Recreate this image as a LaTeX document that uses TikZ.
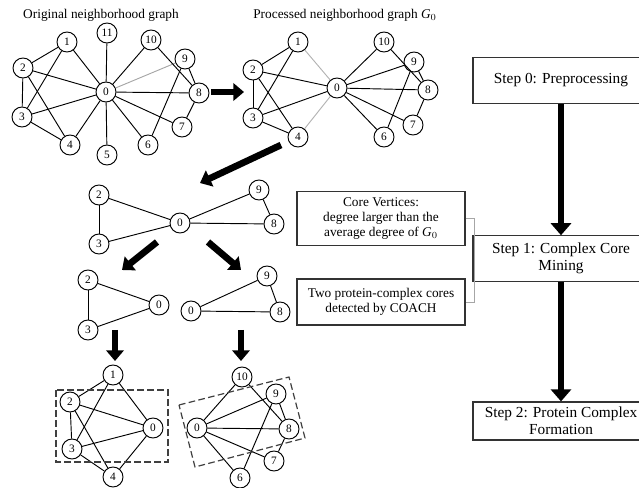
\documentclass[tikz,border=0pt]{standalone}
\usepackage{fontspec}
\setmainfont{Liberation Serif}
\usetikzlibrary{arrows.meta}

\begin{document}
\begin{tikzpicture}[x=0.75pt, y=-0.75pt, line width=0.7pt,
		v/.style={circle, draw, minimum size=15pt, inner sep=0pt, font=\fontsize{8.5}{8.5}\selectfont},
		fat/.style={line width=5pt, -{Triangle[length=8pt, width=13pt]}},
		stepbox/.style={draw=black!80, line width=0.9pt, minimum width=132pt, align=center, font=\fontsize{11.5}{13}\selectfont},
		notebox/.style={draw=black!80, line width=0.9pt, minimum width=126pt, align=center, font=\fontsize{10}{11.5}\selectfont},
		ttl/.style={font=\fontsize{10}{12}\selectfont},
		core/.style={draw=black!75, line width=0.9pt, dash pattern=on 5pt off 2.5pt}]
	\useasboundingbox (0,0) rectangle (639,488);

	% original neighborhood graph
	\node[ttl] (ta) at (101,15) {Original neighborhood graph};
	\node[v] (a1) at (67,42) {1};
	\node[v] (a11) at (107,33) {11};
	\node[v] (a10) at (151,40) {10};
	\node[v] (a9) at (185,59) {9};
	\node[v] (a2) at (23,68) {2};
	\node[v] (a0) at (106,92) {0};
	\node[v] (a8) at (199,93) {8};
	\node[v] (a3) at (22,117) {3};
	\node[v] (a7) at (182,127) {7};
	\node[v] (a4) at (70,145) {4};
	\node[v] (a6) at (148,145) {6};
	\node[v] (a5) at (107,155) {5};

	\path (a1) edge (a2) edge (a3) edge (a0);
	\path (a2) edge (a3) edge (a4) edge (a0);
	\path (a3) edge (a4) edge (a0);
	\path (a4) edge (a0);
	\path (a0) edge (a11) edge (a5) edge (a10) edge (a8) edge (a7) edge (a6);
	\path (a0) edge[gray!70] (a9);
	\path (a10) edge (a8);
	\path (a9) edge (a8) edge (a6);
	\path (a8) edge (a7);

	% processed neighborhood graph
	\node[ttl] (tb) at (345,15) {Processed neighborhood graph \textit{G}$_0$};
	\node[v] (b1) at (298,42) {1};
	\node[v] (b10) at (384,42) {10};
	\node[v] (b9) at (414,62) {9};
	\node[v] (b2) at (253,70) {2};
	\node[v] (b0) at (337,88) {0};
	\node[v] (b8) at (428,90) {8};
	\node[v] (b3) at (253,118) {3};
	\node[v] (b7) at (413,125) {7};
	\node[v] (b4) at (298,137) {4};
	\node[v] (b6) at (384,137) {6};

	\path (b1) edge (b2) edge (b3) edge[gray!60] (b0);
	\path (b2) edge (b3) edge (b4) edge (b0);
	\path (b3) edge (b4) edge (b0);
	\path (b4) edge[gray!60] (b0);
	\path (b0) edge (b10) edge (b9) edge (b8) edge (b7) edge (b6);
	\path (b10) edge (b8);
	\path (b9) edge (b8) edge (b6);
	\path (b8) edge (b7);

	\coordinate (fa) at (211,92);
	\coordinate (fb) at (244,92);
	\coordinate (fc) at (281,145);
	\coordinate (fd) at (200,183);
	\draw[fat] (fa) -- (fb);
	\draw[fat] (fc) -- (fd);

	% core vertices
	\node[v] (c2) at (99,195) {2};
	\node[v] (c3) at (99,244) {3};
	\node[v] (c0) at (180,223) {0};
	\node[v] (c9) at (259,190) {9};
	\node[v] (c8) at (274,224) {8};
	\path (c2) edge (c3) edge (c0);
	\path (c3) edge (c0);
	\path (c0) edge (c9) edge (c8);
	\path (c9) edge (c8);

	\draw[fat] (157,242) -- (122,270);
	\draw[fat] (208,242) -- (241,270);

	% two cores
	\node[v] (d2) at (88,280) {2};
	\node[v] (d0) at (159,305) {0};
	\node[v] (d3) at (88,330) {3};
	\path (d2) edge (d3) edge (d0);
	\path (d3) edge (d0);
	\node[v] (e0) at (191,311) {0};
	\node[v] (e9) at (267,276) {9};
	\node[v] (e8) at (280,312) {8};
	\path (e0) edge (e9) edge (e8);
	\path (e9) edge (e8);

	\draw[fat] (115,330) -- (115,361);
	\draw[fat] (241,330) -- (241,361);

	% protein complexes
	\node[v] (f1) at (113,375) {1};
	\node[v] (f2) at (70,402) {2};
	\node[v] (f0) at (153,428) {0};
	\node[v] (f3) at (72,449) {3};
	\node[v] (f4) at (113,477) {4};
	\path (f1) edge (f2) edge (f3) edge (f0);
	\path (f2) edge (f3) edge (f4) edge (f0);
	\path (f3) edge (f4) edge (f0);
	\path (f4) edge (f0);
	\draw[core] (56,390) rectangle (168,462);

	\node[v] (g10) at (242,377) {10};
	\node[v] (g9) at (276,394) {9};
	\node[v] (g0) at (197,428) {0};
	\node[v] (g8) at (289,429) {8};
	\node[v] (g7) at (274,461) {7};
	\node[v] (g6) at (240,478) {6};
	\path (g0) edge (g10) edge (g9) edge (g8) edge (g7) edge (g6);
	\path (g10) edge (g8);
	\path (g9) edge (g8) edge (g6);
	\path (g8) edge (g7);
	\draw[core] (179,405) -- (289,377) -- (305,438) -- (195,467) -- cycle;

	% notes
	\node[notebox, minimum height=40pt] (n1) at (381,218.5) {Core Vertices:\\degree larger than the\\average degree of \textit{G}$_0$};
	\node[notebox, minimum height=34.5pt] (n2) at (381,302) {Two protein-complex cores\\detected by COACH};

	% steps
	\node[stepbox, minimum height=34pt] (s0) at (561,80.5) {Step 0: Preprocessing};
	\node[stepbox, minimum height=34pt] (s1) at (561,258.5) {Step 1: Complex Core\\Mining};
	\node[stepbox, minimum height=28.5pt] (s2) at (561,421) {Step 2: Protein Complex\\Formation};

	\draw[fat, -{Triangle[length=9pt, width=15pt]}] (s0) -- (s1);
	\draw[fat, -{Triangle[length=9pt, width=15pt]}] (s1) -- (s2);
	\draw[gray!70, line width=0.5pt] (n1.east) -- ++(9,0) |- (n2.east);
\end{tikzpicture}
\end{document}
